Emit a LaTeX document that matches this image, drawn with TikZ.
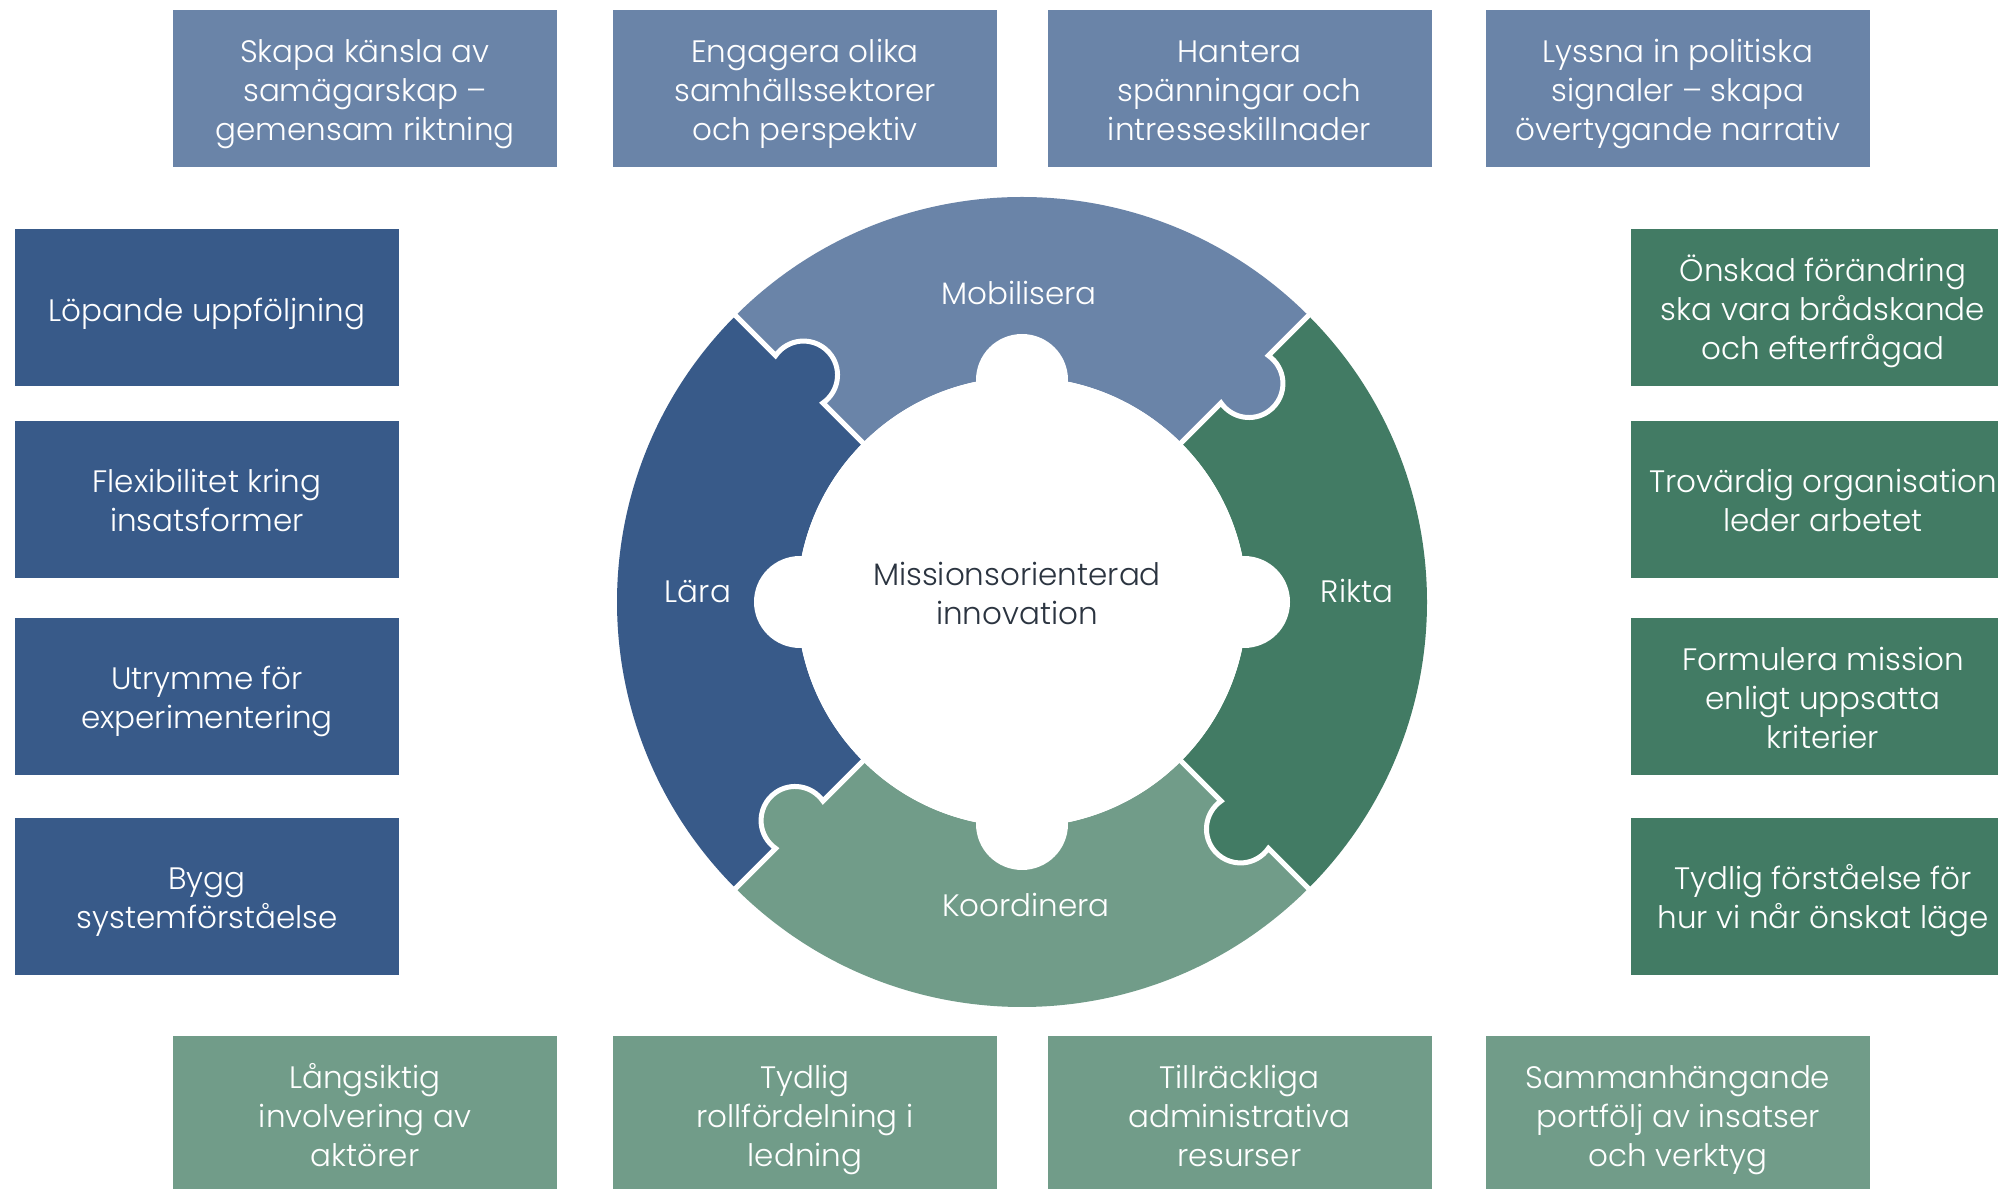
\documentclass[tikz,border=0pt]{standalone}
\usepackage{fontspec}
\setmainfont{Poppins}[UprightFont=* Light]
\definecolor{cmob}{HTML}{6A84A8}
\definecolor{clara}{HTML}{385A89}
\definecolor{crik}{HTML}{427B64}
\definecolor{ckoo}{HTML}{719C89}
\definecolor{cdark}{HTML}{2B3440}
\newcommand\myboxfont{\fontsize{31}{39}\selectfont}
\newcommand\mylines[1]{\begin{tabular}[t]{@{}c@{}}#1\end{tabular}}
\begin{document}
\begin{tikzpicture}[x=1pt,y=1pt,
  boxstyle/.style={minimum width=384pt, minimum height=157pt, inner sep=0pt, text=white, font=\myboxfont, text height=30pt},
  boxone/.style={boxstyle, text depth=3pt},
  boxtwo/.style={boxstyle, text depth=44pt},
  boxthree/.style={boxstyle, text depth=82pt},
  ringlabel/.style={text=white, inner sep=0pt, anchor=base, font=\myboxfont},
  gapline/.style={white, line width=5pt}]
\clip (0,0) rectangle (1998,1189);
\useasboundingbox (0,0) rectangle (1998,1189);
\fill[white] (0,0) rectangle (1998,1189);

% top boxes
\node[boxthree, fill=cmob] (t1) at (365,1100.5) {\mylines{Skapa känsla av\\samägarskap –\\gemensam riktning}};
\node[boxthree, fill=cmob] (t2) at (805,1100.5) {\mylines{Engagera olika\\samhällssektorer\\och perspektiv}};
\node[boxthree, fill=cmob] (t3) at (1239.5,1100.5) {\mylines{Hantera\\spänningar och\\intresseskillnader}};
\node[boxthree, fill=cmob] (t4) at (1678,1100.5) {\mylines{Lyssna in politiska\\signaler – skapa\\övertygande narrativ}};
% left boxes
\node[boxone, fill=clara] (l1) at (207,881) {\mylines{Löpande uppföljning}};
\node[boxtwo, fill=clara] (l2) at (207,689) {\mylines{Flexibilitet kring\\insatsformer}};
\node[boxtwo, fill=clara] (l3) at (207,492) {\mylines{Utrymme för\\experimentering}};
\node[boxtwo, fill=clara] (l4) at (207,292) {\mylines{Bygg\\systemförståelse}};
% right boxes
\node[boxthree, fill=crik] (r1) at (1823,881) {\mylines{Önskad förändring\\ska vara brådskande\\och efterfrågad}};
\node[boxtwo, fill=crik] (r2) at (1823,689) {\mylines{Trovärdig organisation\\leder arbetet}};
\node[boxthree, fill=crik] (r3) at (1823,492) {\mylines{Formulera mission\\enligt uppsatta\\kriterier}};
\node[boxtwo, fill=crik] (r4) at (1823,292) {\mylines{Tydlig förståelse för\\hur vi når önskat läge}};
% bottom boxes
\node[boxthree, fill=ckoo] (b1) at (365,74.5) {\mylines{Långsiktig\\involvering av\\aktörer}};
\node[boxthree, fill=ckoo] (b2) at (805,74.5) {\mylines{Tydlig\\rollfördelning i\\ledning}};
\node[boxthree, fill=ckoo] (b3) at (1239.5,74.5) {\mylines{Tillräckliga\\administrativa\\resurser}};
\node[boxthree, fill=ckoo] (b4) at (1678,74.5) {\mylines{Sammanhängande\\portfölj av insatser\\och verktyg}};

% ring
\begin{scope}[shift={(1022,587)}]
  \fill[cmob] (45:405) arc[start angle=45,end angle=135,radius=405] -- (135:225) arc[start angle=135,end angle=45,radius=225] -- cycle;
  \fill[clara] (135:405) arc[start angle=135,end angle=225,radius=405] -- (225:225) arc[start angle=225,end angle=135,radius=225] -- cycle;
  \fill[ckoo] (225:405) arc[start angle=225,end angle=315,radius=405] -- (315:225) arc[start angle=315,end angle=225,radius=225] -- cycle;
  \fill[crik] (-45:405) arc[start angle=-45,end angle=45,radius=405] -- (45:225) arc[start angle=45,end angle=-45,radius=225] -- cycle;
  \foreach \a/\col in {135/clara, 45/cmob, -45/crik, 225/ckoo} {
    \begin{scope}[rotate=\a]
      \fill[\col] (315,-6) circle[radius=34];
      \draw[gapline] (215,0) -- (281.5,0) arc[start angle=169.85, end angle=370.15, radius=34] -- (415,0);
    \end{scope}
  }
  \fill[white] (0,0) circle[radius=225];
  \foreach \a in {0,90,180,270} \fill[white] (\a:222) circle[radius=46];
\end{scope}

\node[ringlabel] (lmob) at (1019,884) {Mobilisera};
\node[ringlabel] (lrik) at (1357,586) {Rikta};
\node[ringlabel] (llar) at (698,586) {Lära};
\node[ringlabel] (lkoo) at (1026,272) {Koordinera};
\node[text=cdark, inner sep=0pt, align=center, font=\myboxfont] (center) at (1017,596) {Missionsorienterad\\innovation};
\end{tikzpicture}
\end{document}
